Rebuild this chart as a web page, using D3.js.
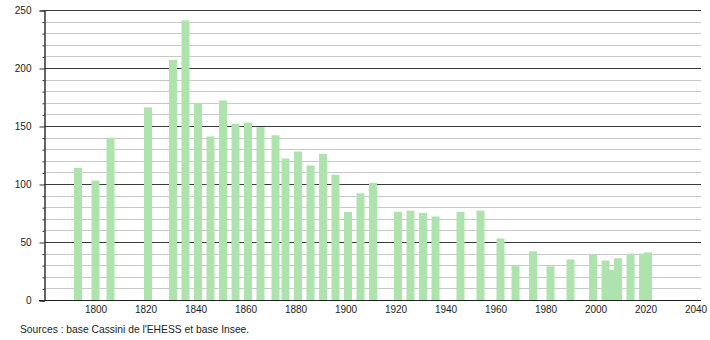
<!DOCTYPE html>
<html>
<head>
<meta charset="utf-8">
<script src="https://cdn.jsdelivr.net/npm/d3@7"></script>
<style>
    body { margin: 0; background: #ffffff; }
    svg text { font-family: "Liberation Sans", Arial, sans-serif; font-size: 10px; fill: #222222; }
    svg text.sourceNote { font-size: 10.3px; }
</style>
</head>
<body>
<svg id="popChart"></svg>
<script>
/* Census years and population */
let censusYears = [1793, 1800, 1806, 1821, 1831, 1836, 1841, 1846, 1851, 1856,
    1861, 1866, 1872, 1876, 1881, 1886, 1891, 1896, 1901, 1906,
    1911, 1921, 1926, 1931, 1936, 1946, 1954, 1962, 1968, 1975,
    1982, 1990, 1999, 2004, 2007, 2009, 2014, 2019, 2021];
let populationValues = [114, 103, 140, 166, 207, 241, 170, 141, 172, 152,
    153, 149, 142, 122, 128, 116, 126, 108, 76, 92,
    101, 76, 77, 75, 72, 76, 77, 53, 30, 42,
    29, 35, 39, 34, 26, 36, 40, 40, 41];

/* Axis ticks */
let yMajorTicks = [0, 50, 100, 150, 200, 250];
let yMinorTicks = d3.range(0, 251, 10).filter(v => v % 50 != 0);
let xTickYears = [1800, 1820, 1840, 1860, 1880, 1900, 1920, 1940, 1960, 1980, 2000, 2020, 2040];
let sourceNote = "Sources : base Cassini de l'EHESS et base Insee.";

let svgWidth = 710;
let svgHeight = 340;

let svg = d3.select("svg#popChart")
    .attr("width", svgWidth)
    .attr("height", svgHeight);

let xScale = d3.scaleLinear()
    .domain([1779.4, 2042])
    .range([44, 700.5]);

let yScale = d3.scaleLinear()
    .domain([0, 250])
    .range([300, 10]);

let plotLeft = 44;
let plotRight = 701;

/* Grid lines, light every 10, dark every 50 */
svg.append("g").selectAll("line")
    .data(yMinorTicks)
    .join("line")
    .attr("x1", plotLeft)
    .attr("x2", plotRight)
    .attr("y1", d => Math.round(yScale(d)) + 0.5)
    .attr("y2", d => Math.round(yScale(d)) + 0.5)
    .attr("stroke", "#c8c8c8");

svg.append("g").selectAll("line")
    .data(yMajorTicks)
    .join("line")
    .attr("x1", plotLeft)
    .attr("x2", plotRight)
    .attr("y1", d => Math.round(yScale(d)) + 0.5)
    .attr("y2", d => Math.round(yScale(d)) + 0.5)
    .attr("stroke", "#3a3a3a");

/* Bars */
let barWidth = 8;
svg.append("g").selectAll("rect")
    .data(censusYears)
    .join("rect")
    .attr("x", d => xScale(d) - barWidth / 2)
    .attr("width", barWidth)
    .attr("y", (d, i) => yScale(populationValues[i]))
    .attr("height", (d, i) => yScale(0) - yScale(populationValues[i]))
    .attr("fill", "#aee3ae");

/* Y axis with major and minor ticks */
let yAxisMajor = d3.axisLeft(yScale)
    .tickValues(yMajorTicks)
    .tickSize(5)
    .tickPadding(9)
    .tickFormat(d3.format("d"));
let yAxisMinor = d3.axisLeft(yScale)
    .tickValues(yMinorTicks)
    .tickSize(2)
    .tickFormat("");

let yAxisG = svg.append("g")
    .attr("transform", "translate(" + (plotLeft + 0.5) + ",0.5)")
    .call(yAxisMajor);
svg.append("g")
    .attr("transform", "translate(" + (plotLeft + 0.5) + ",0.5)")
    .call(yAxisMinor);

svg.selectAll(".tick line").attr("stroke", "#333333");
svg.selectAll("path.domain").attr("stroke", "#333333");
yAxisG.selectAll(".tick text").attr("x", -13);

/* X axis, labels only */
let xAxis = d3.axisBottom(xScale)
    .tickValues(xTickYears)
    .tickSize(0)
    .tickPadding(5)
    .tickFormat(d3.format("d"));

let xAxisG = svg.append("g")
    .attr("transform", "translate(0," + (yScale(0) + 0.5) + ")")
    .call(xAxis);
xAxisG.select("path.domain").remove();

/* Baseline extends slightly left of the axis */
svg.append("line")
    .attr("x1", 39)
    .attr("x2", plotRight)
    .attr("y1", yScale(0) + 0.5)
    .attr("y2", yScale(0) + 0.5)
    .attr("stroke", "#222222");

/* Source note */
svg.append("text")
    .attr("class", "sourceNote")
    .attr("x", 20)
    .attr("y", 333)
    .text(sourceNote);
</script>
</body>
</html>
